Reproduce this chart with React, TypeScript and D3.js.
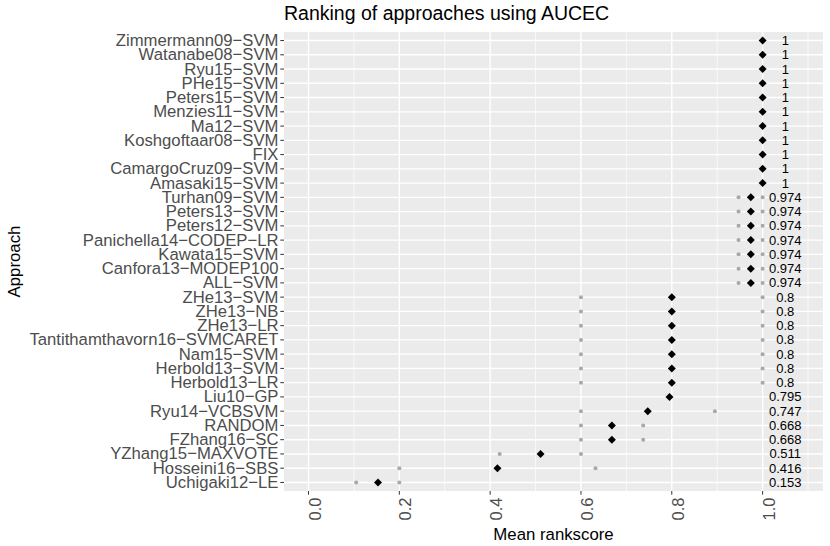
import * as d3 from 'd3';
import React from 'react';

const approaches: string[] = [
  'Zimmermann09−SVM', 'Watanabe08−SVM', 'Ryu15−SVM', 'PHe15−SVM', 'Peters15−SVM',
  'Menzies11−SVM', 'Ma12−SVM', 'Koshgoftaar08−SVM', 'FIX', 'CamargoCruz09−SVM',
  'Amasaki15−SVM', 'Turhan09−SVM', 'Peters13−SVM', 'Peters12−SVM', 'Panichella14−CODEP−LR',
  'Kawata15−SVM', 'Canfora13−MODEP100', 'ALL−SVM', 'ZHe13−SVM', 'ZHe13−NB', 'ZHe13−LR',
  'Tantithamthavorn16−SVMCARET', 'Nam15−SVM', 'Herbold13−SVM', 'Herbold13−LR', 'Liu10−GP',
  'Ryu14−VCBSVM', 'RANDOM', 'FZhang16−SC', 'YZhang15−MAXVOTE', 'Hosseini16−SBS', 'Uchigaki12−LE',
];

const meanScores: number[] = [
  1, 1, 1, 1, 1, 1, 1, 1, 1, 1, 1,
  0.974, 0.974, 0.974, 0.974, 0.974, 0.974, 0.974,
  0.8, 0.8, 0.8, 0.8, 0.8, 0.8, 0.8,
  0.795, 0.747, 0.668, 0.668, 0.511, 0.416, 0.153,
];

const lowerScores: number[] = [
  1, 1, 1, 1, 1, 1, 1, 1, 1, 1, 1,
  0.947, 0.947, 0.947, 0.947, 0.947, 0.947, 0.947,
  0.6, 0.6, 0.6, 0.6, 0.6, 0.6, 0.6,
  0.795, 0.6, 0.6, 0.6, 0.421, 0.2, 0.105,
];

const upperScores: number[] = [
  1, 1, 1, 1, 1, 1, 1, 1, 1, 1, 1,
  1, 1, 1, 1, 1, 1, 1,
  1, 1, 1, 1, 1, 1, 1,
  0.795, 0.895, 0.737, 0.737, 0.6, 0.632, 0.2,
];

const xTicks: number[] = [0, 0.2, 0.4, 0.6, 0.8, 1.0];
const xMinor: number[] = [0.1, 0.3, 0.5, 0.7, 0.9, 1.1];

const width = 830;
const height = 546;
const panel = { left: 284, right: 823, top: 32, bottom: 491 };
const labelX = 1.05;
const font = "'Liberation Sans', Arial, Helvetica, sans-serif";

const App: React.FC = () => {
  const x = d3.scaleLinear().domain([-0.054, 1.133]).range([panel.left, panel.right]);
  const y = d3.scalePoint<string>().domain(approaches).range([panel.top, panel.bottom]).padding(0.6);
  const diamond = d3.symbol().type(d3.symbolSquare).size(32)();
  const fmt = d3.format('.1f');

  return (
    <svg
      width={width}
      height={height}
      viewBox={`0 0 ${width} ${height}`}
      style={{ position: 'absolute', left: 0, top: 0, background: '#fff' }}
      fontFamily={font}
    >
      <rect
        x={panel.left}
        y={panel.top}
        width={panel.right - panel.left}
        height={panel.bottom - panel.top}
        fill="#ebebeb"
      />
      {xMinor.map((t) => (
        <line key={'m' + t} x1={x(t)} x2={x(t)} y1={panel.top} y2={panel.bottom} stroke="#fff" strokeWidth={0.7} />
      ))}
      {xTicks.map((t) => (
        <line key={'g' + t} x1={x(t)} x2={x(t)} y1={panel.top} y2={panel.bottom} stroke="#fff" strokeWidth={1.4} />
      ))}
      {approaches.map((a) => (
        <line key={'h' + a} x1={panel.left} x2={panel.right} y1={y(a)} y2={y(a)} stroke="#fff" strokeWidth={1.4} />
      ))}

      {approaches.map((a, i) => (
        <g key={'p' + a}>
          <circle cx={x(lowerScores[i])} cy={y(a)} r={2} fill="#a8a8a8" />
          <circle cx={x(upperScores[i])} cy={y(a)} r={2} fill="#a8a8a8" />
          <path d={diamond} transform={`translate(${x(meanScores[i])},${y(a)}) rotate(45)`} fill="#000" />
          <text
            x={x(labelX)}
            y={y(a)}
            textAnchor="middle"
            dominantBaseline="central"
            fontSize={13}
            fill="#000"
          >
            {String(meanScores[i])}
          </text>
        </g>
      ))}

      {approaches.map((a) => (
        <g key={'y' + a}>
          <line x1={panel.left - 3.7} x2={panel.left} y1={y(a)} y2={y(a)} stroke="#333" strokeWidth={1} />
          <text
            x={panel.left - 5.5}
            y={y(a)}
            textAnchor="end"
            dominantBaseline="central"
            fontSize={16.7}
            fill="#4d4d4d"
          >
            {a}
          </text>
        </g>
      ))}

      {xTicks.map((t) => (
        <g key={'x' + t}>
          <line x1={x(t)} x2={x(t)} y1={panel.bottom} y2={panel.bottom + 3.7} stroke="#333" strokeWidth={1} />
          <text
            transform={`translate(${x(t) + 12},${panel.bottom + 6.5}) rotate(-90)`}
            textAnchor="end"
            fontSize={16.5}
            fill="#4d4d4d"
          >
            {fmt(t)}
          </text>
        </g>
      ))}

      <text x={panel.left} y={20} fontSize={19.5} fill="#000">
        Ranking of approaches using AUCEC
      </text>
      <text x={(panel.left + panel.right) / 2} y={540} textAnchor="middle" fontSize={16.8} fill="#000">
        Mean rankscore
      </text>
      <text
        transform={`translate(20,${(panel.top + panel.bottom) / 2}) rotate(-90)`}
        textAnchor="middle"
        fontSize={16.8}
        fill="#000"
      >
        Approach
      </text>
    </svg>
  );
};

export default App;
